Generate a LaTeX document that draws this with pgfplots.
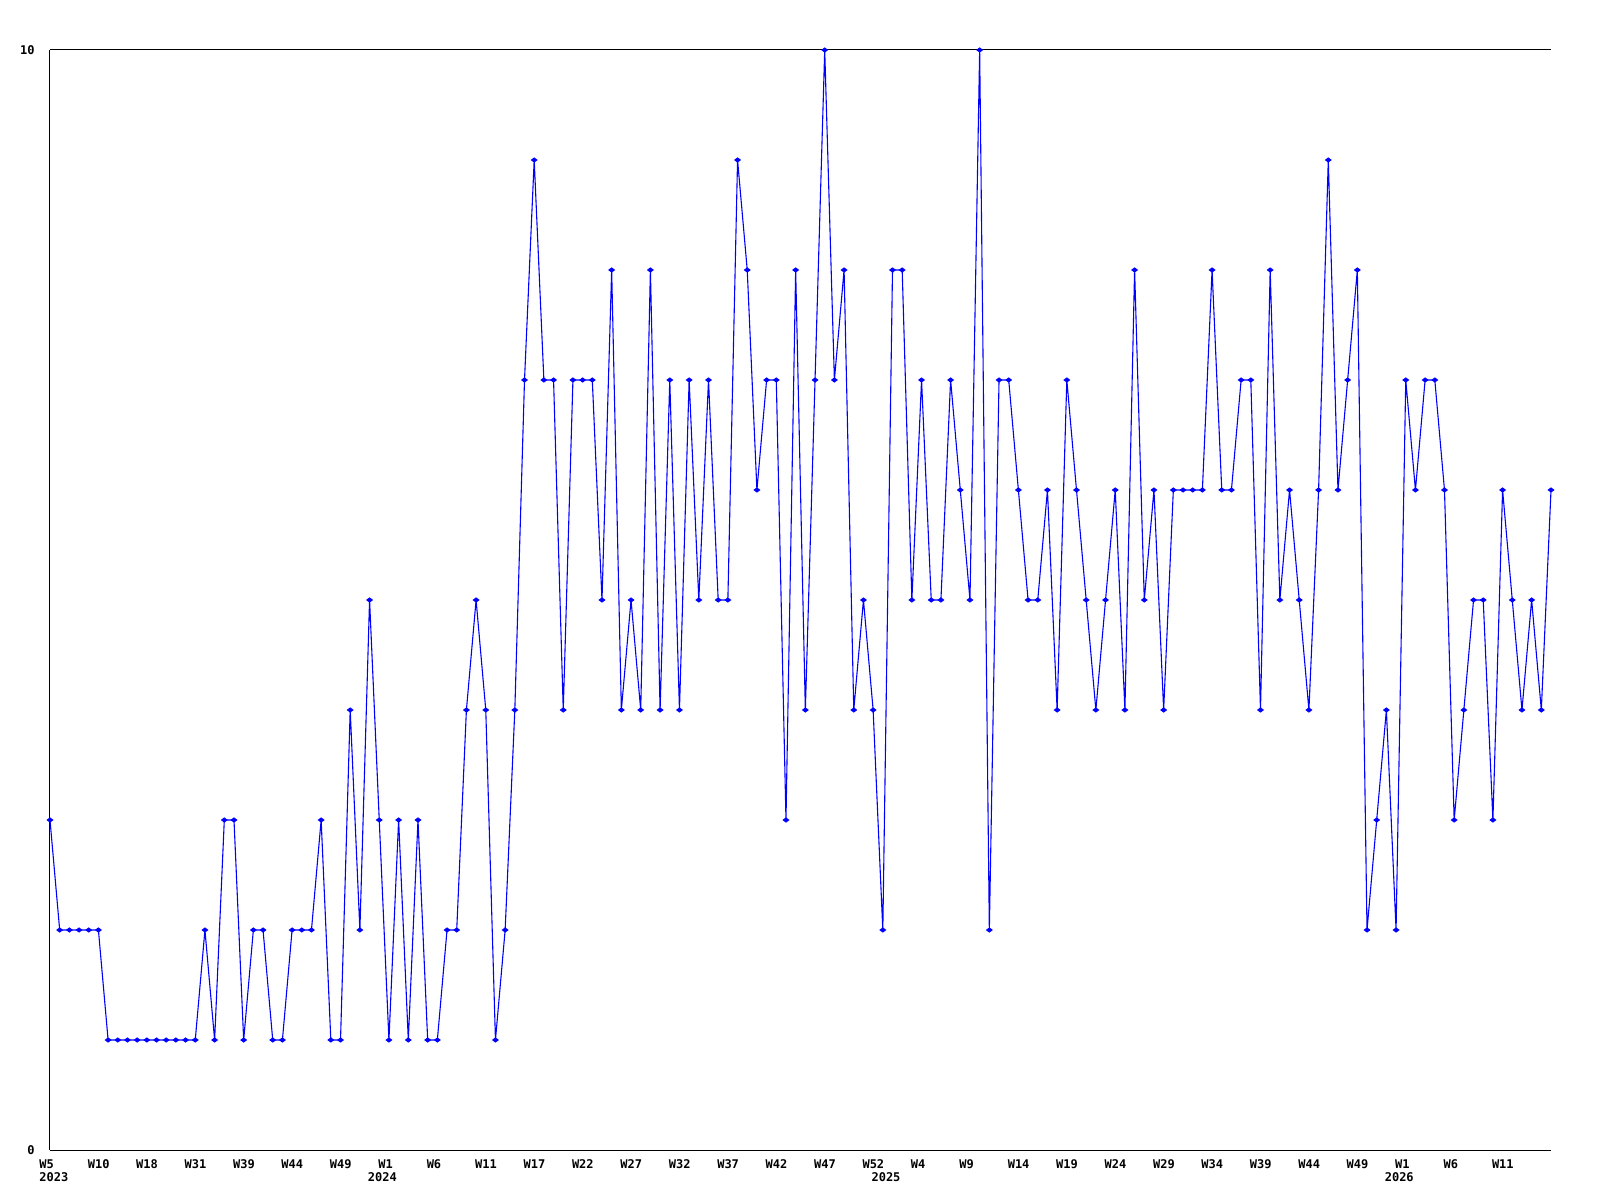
\documentclass[border=0pt]{standalone}
\usepackage{fontspec}
\setmainfont{DejaVu Sans Mono}
\usepackage{pgfplots}
\usepackage{pgfplotstable}
\pgfplotsset{compat=1.18}
\pgfplotstableread{
i v
0 3
1 2
2 2
3 2
4 2
5 2
6 1
7 1
8 1
9 1
10 1
11 1
12 1
13 1
14 1
15 1
16 2
17 1
18 3
19 3
20 1
21 2
22 2
23 1
24 1
25 2
26 2
27 2
28 3
29 1
30 1
31 4
32 2
33 5
34 3
35 1
36 3
37 1
38 3
39 1
40 1
41 2
42 2
43 4
44 5
45 4
46 1
47 2
48 4
49 7
50 9
51 7
52 7
53 4
54 7
55 7
56 7
57 5
58 8
59 4
60 5
61 4
62 8
63 4
64 7
65 4
66 7
67 5
68 7
69 5
70 5
71 9
72 8
73 6
74 7
75 7
76 3
77 8
78 4
79 7
80 10
81 7
82 8
83 4
84 5
85 4
86 2
87 8
88 8
89 5
90 7
91 5
92 5
93 7
94 6
95 5
96 10
97 2
98 7
99 7
100 6
101 5
102 5
103 6
104 4
105 7
106 6
107 5
108 4
109 5
110 6
111 4
112 8
113 5
114 6
115 4
116 6
117 6
118 6
119 6
120 8
121 6
122 6
123 7
124 7
125 4
126 8
127 5
128 6
129 5
130 4
131 6
132 9
133 6
134 7
135 8
136 2
137 3
138 4
139 2
140 7
141 6
142 7
143 7
144 6
145 3
146 4
147 5
148 5
149 3
150 6
151 5
152 4
153 5
154 4
155 6
}\datatable
\begin{document}
\begin{tikzpicture}
\useasboundingbox (-25pt,-25pt) rectangle (775pt,575pt);
\begin{axis}[
  at={(0pt,0pt)}, anchor=south west,
  scale only axis, width=750.5pt, height=550pt,
  xmin=0, xmax=155, ymin=0, ymax=10,
  axis x line=box, axis y line=left,
  axis line style={-, line width=0.5pt, black},
  xtick={0,5,...,150},
  xticklabels={W5,W10,W18,W31,W39,W44,W49,W1,W6,W11,W17,W22,W27,W32,W37,W42,W47,W52,W4,W9,W14,W19,W24,W29,W34,W39,W44,W49,W1,W6,W11},
  ytick={0,10},
  yticklabels={0,10},
  major tick length=0pt,
  tick style={draw=none},
  xticklabel style={font=\fontsize{6}{7}\selectfont\bfseries, anchor=north west, inner sep=0pt, xshift=-5.5pt, yshift=-4.5pt},
  yticklabel style={font=\fontsize{6}{7}\selectfont\bfseries, anchor=east, inner sep=0pt, xshift=-7.5pt},
  /pgf/number format/assume math mode=true,
  clip=false,
]
\addplot[color={rgb,255:red,0;green,0;blue,255}, line width=0.55pt, mark=diamond*, mark size=1.3pt, mark options={rotate=90}] table[x=i, y=v] {\datatable};
\node[anchor=north west, inner sep=0pt, font=\fontsize{6}{7}\selectfont\bfseries, xshift=-5.5pt, yshift=-11pt] at (axis cs:0,0) {2023};
\node[anchor=north, inner sep=0pt, font=\fontsize{6}{7}\selectfont\bfseries, xshift=-3.25pt, yshift=-11pt] at (axis cs:35,0) {2024};
\node[anchor=north, inner sep=0pt, font=\fontsize{6}{7}\selectfont\bfseries, xshift=-3.25pt, yshift=-11pt] at (axis cs:87,0) {2025};
\node[anchor=north, inner sep=0pt, font=\fontsize{6}{7}\selectfont\bfseries, xshift=-3.25pt, yshift=-11pt] at (axis cs:140,0) {2026};
\end{axis}
\end{tikzpicture}
\end{document}
